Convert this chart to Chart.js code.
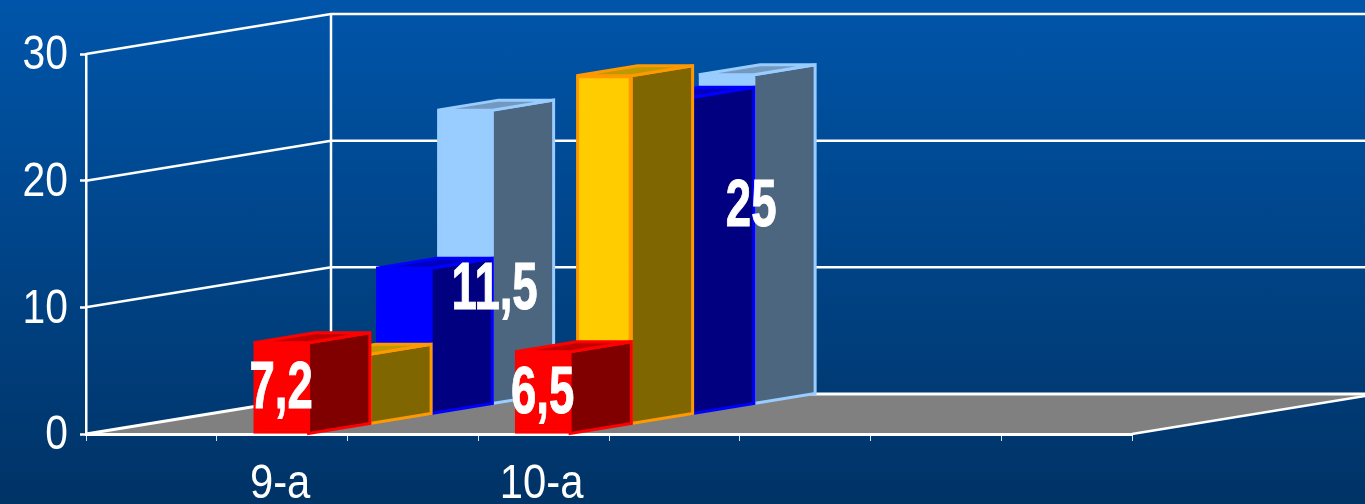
<!DOCTYPE html>
<html>
<head>
<meta charset="utf-8">
<title>3D bars</title>
<script src="https://cdn.jsdelivr.net/npm/chart.js@4"></script>
<style>
  html, body { margin: 0; padding: 0; background: #003366; overflow: hidden; }
  canvas { display: block; background: linear-gradient(180deg, #0055aa 0%, #003366 100%); }
</style>
</head>
<body>
<canvas id="chart" width="1365" height="504"></canvas>
<script>
// categories and values
const categories = ['', '9-a', '', '10-a', '', '', '', ''];
const yTicks = [0, 10, 20, 30];
const redValues = [null, 7.2, null, 6.5, null, null, null, null];
const yellowValues = [null, 5.5, null, 27.5, null, null, null, null];
const blueValues = [null, 11.5, null, 25, null, null, null, null];
const lightValues = [null, 23.2, null, 26, null, null, null, null];

// the 3d look: one row of depth per series
const DEPTH_X = 61.25;
const DEPTH_Y = 10;
const ROWS = 4;
const NUDGE_X = -1;

const styles = [
  { front: '#ff0000', line: '#ff0000', side: '#800000', top: '#c00000' },
  { front: '#ffcc00', line: '#ff9900', side: '#806600', top: '#bf9900' },
  { front: '#0000ff', line: '#0000ff', side: '#000080', top: '#0000c0' },
  { front: '#99ccff', line: '#99ccff', side: '#4d6680', top: '#7399bf' }
];

function polygon(ctx, pts) {
  ctx.beginPath();
  pts.forEach((p, i) => i ? ctx.lineTo(p[0], p[1]) : ctx.moveTo(p[0], p[1]));
  ctx.closePath();
}

// the reference text is squeezed sideways, no narrow font is installed
function squeezed(ctx, text, x, y, sx, heavy) {
  ctx.save();
  ctx.translate(x, y);
  ctx.scale(sx, 1);
  ctx.fillText(text, 0, 0);
  if (heavy) {
    ctx.strokeStyle = '#ffffff';
    ctx.lineWidth = 1;
    ctx.strokeText(text, 0, 0);
  }
  ctx.restore();
}

const box3d = {
  id: 'box3d',
  // floor and walls, the scales go on top of them
  beforeDraw(chart) {
    const { ctx, chartArea: a, scales: { y } } = chart;
    const wx = DEPTH_X * ROWS, wy = DEPTH_Y * ROWS;
    ctx.save();
    polygon(ctx, [[a.left, a.bottom], [a.right, a.bottom], [a.right + wx, a.bottom - wy], [a.left + wx, a.bottom - wy]]);
    ctx.fillStyle = '#808080';
    ctx.fill();
    ctx.strokeStyle = '#ffffff';
    yTicks.forEach(t => {
      const py = y.getPixelForValue(t);
      ctx.lineWidth = t === 0 ? 3 : 2.5;
      ctx.beginPath();
      ctx.moveTo(a.left, py);
      ctx.lineTo(a.left + wx, py - wy);
      ctx.lineTo(a.right + wx, py - wy);
      ctx.stroke();
    });
    ctx.lineWidth = 2.5;
    ctx.beginPath();
    ctx.moveTo(a.left + wx, a.top - wy);
    ctx.lineTo(a.left + wx, a.bottom - wy);
    ctx.moveTo(a.right, a.bottom);
    ctx.lineTo(a.right + wx, a.bottom - wy);
    ctx.stroke();
    ctx.restore();
  },
  // side and top faces, then the library paints the front face in the shifted row
  beforeDatasetDraw(chart, args) {
    const { ctx } = chart;
    const s = styles[args.index];
    ctx.save();
    ctx.translate(args.index * DEPTH_X + NUDGE_X, -args.index * DEPTH_Y);
    args.meta.data.forEach((bar, i) => {
      if (chart.data.datasets[args.index].data[i] == null) return;
      const l = bar.x - bar.width / 2, r = bar.x + bar.width / 2;
      ctx.lineWidth = 3;
      ctx.lineJoin = 'miter';
      ctx.strokeStyle = s.line;
      polygon(ctx, [[r, bar.y], [r + DEPTH_X, bar.y - DEPTH_Y], [r + DEPTH_X, bar.base - DEPTH_Y], [r, bar.base]]);
      ctx.fillStyle = s.side;
      ctx.fill();
      ctx.stroke();
      polygon(ctx, [[l, bar.y], [l + DEPTH_X, bar.y - DEPTH_Y], [r + DEPTH_X, bar.y - DEPTH_Y], [r, bar.y]]);
      ctx.fillStyle = s.top;
      ctx.fill();
      ctx.stroke();
    });
  },
  afterDatasetDraw(chart) {
    chart.ctx.restore();
  },
  afterDatasetsDraw(chart) {
    const { ctx, scales: { x, y } } = chart;
    ctx.save();
    ctx.fillStyle = '#ffffff';
    ctx.textBaseline = 'middle';

    // tick labels from the scales
    ctx.font = '48px "Liberation Sans"';
    ctx.textAlign = 'right';
    y.ticks.forEach((t, i) => squeezed(ctx, String(t.value), 68, y.getPixelForTick(i) + 2, 0.85));
    ctx.textAlign = 'center';
    x.ticks.forEach((t, i) => {
      squeezed(ctx, categories[t.value], x.getPixelForTick(i) - 2, 485, 0.87);
    });

    // data labels, only red and blue have them; blue ones were dragged off their bars
    const moved = { 1: [91, -52], 3: [86, -50] };
    ctx.font = 'bold 66px "Liberation Sans"';
    [0, 2].forEach(d => {
      chart.getDatasetMeta(d).data.forEach((bar, i) => {
        const v = chart.data.datasets[d].data[i];
        if (v == null) return;
        let px = bar.x + d * DEPTH_X + NUDGE_X;
        let py = (bar.y + bar.base) / 2 - d * DEPTH_Y + 2;
        if (d === 2) { px += moved[i][0]; py += moved[i][1]; }
        squeezed(ctx, String(v).replace('.', ','), px, py, 0.69, true);
      });
    });
    ctx.restore();
  }
};

function makeSet(label, data, i) {
  return {
    label,
    data,
    backgroundColor: styles[i].front,
    borderColor: styles[i].line,
    borderWidth: 3,
    borderSkipped: false,
    clip: false
  };
}

new Chart(document.getElementById('chart'), {
  type: 'bar',
  data: {
    labels: categories,
    // first dataset is painted last, so red sits in the front row
    datasets: [
      makeSet('Red', redValues, 0),
      makeSet('Yellow', yellowValues, 1),
      makeSet('Blue', blueValues, 2),
      makeSet('Light blue', lightValues, 3)
    ]
  },
  options: {
    responsive: false,
    animation: false,
    layout: { padding: { top: 54, right: 233 } },
    plugins: { legend: { display: false }, tooltip: { enabled: false } },
    datasets: { bar: { grouped: false, barThickness: 55 } },
    scales: {
      x: {
        afterFit: s => { s.height = 70; },
        border: { color: '#ffffff', width: 3 },
        grid: { drawOnChartArea: false, color: '#d8e4f0', tickLength: 7, tickWidth: 1 },
        ticks: { display: false, autoSkip: false }
      },
      y: {
        min: 0,
        max: 30,
        afterFit: s => { s.width = 86; },
        border: { color: '#ffffff', width: 2.5 },
        grid: { drawOnChartArea: false, color: '#ffffff', tickLength: 6, tickWidth: 2.5 },
        ticks: { display: false, stepSize: 10 }
      }
    }
  },
  plugins: [box3d]
});
</script>
</body>
</html>
